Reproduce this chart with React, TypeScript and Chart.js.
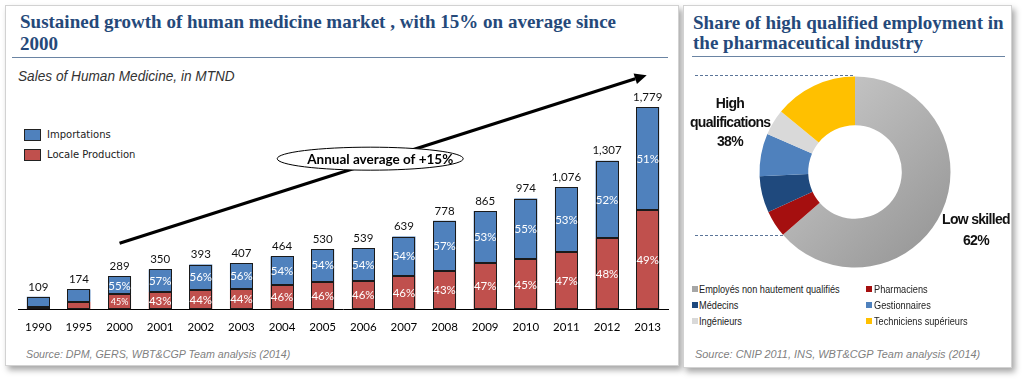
import React, { useEffect, useRef } from "react";
import { Chart, registerables } from "chart.js";

Chart.register(...registerables);

// ---------- Bar chart data (Sales of Human Medicine, MTND) ----------
const years = ["1990", "1995", "2000", "2001", "2002", "2003", "2004", "2005", "2006", "2007", "2008", "2009", "2010", "2011", "2012", "2013"];
const totalSales = [109, 174, 289, 350, 393, 407, 464, 530, 539, 639, 778, 865, 974, 1076, 1307, 1779];
// share of local production (%) — 1990 and 1995
const localSharePct = [16, 38, 45, 43, 44, 44, 46, 46, 46, 46, 43, 47, 45, 47, 48, 49];
const importPctLabels = [null, null, "55%", "57%", "56%", "56%", "54%", "54%", "54%", "54%", "57%", "53%", "55%", "53%", "52%", "51%"];
const localPctLabels = [null, null, "45%", "43%", "44%", "44%", "46%", "46%", "46%", "46%", "43%", "47%", "45%", "47%", "48%", "49%"];
const trendFromValue = 580;
const trendToValue = 2060;
const trendText = "Annual average of +15%";

// ---------- Doughnut data (employment shares, %) ----------
const jobCategories = ["Employés non hautement qualifiés", "Pharmaciens", "Médecins", "Gestionnaires", "Ingénieurs", "Techniciens supérieurs"];
const jobShares = [63.6, 4.5, 6.2, 7.2, 4.4, 14.1];
const jobColors = ["#A9A9A9", "#A50F0F", "#1F497D", "#4F81BD", "#D9D9D9", "#FFC000"];
const highLabel = ["High", "qualifications", "38%"];
const lowLabel = ["Low skilled", "62%"];

const localValues = totalSales.map((t, i) => (t * localSharePct[i]) / 100);
const importValues = totalSales.map((t, i) => t - localValues[i]);

const titleColor = "#25497A";
const ruleColor = "#6A84A3";

const barLabelPlugin = {
  id: "barLabels",
  afterDatasetsDraw(chart: any) {
    const ctx = chart.ctx;
    const xs = chart.scales.x;
    const ys = chart.scales.y;
    ctx.save();
    // crisp outlines around every segment
    ctx.strokeStyle = "#1a1a1a";
    ctx.lineWidth = 1;
    [0, 1].forEach((di) => {
      chart.getDatasetMeta(di).data.forEach((el: any) => {
        const { x, y, base, width } = el.getProps(["x", "y", "base", "width"], true);
        const l = Math.round(x - width / 2) + 0.5;
        const r = Math.round(x + width / 2) - 0.5;
        const t = Math.round(y) + 0.5;
        const b = Math.round(base) - 0.5;
        ctx.strokeRect(l, t, r - l, b - t);
      });
    });
    // percentages inside segments
    const labelSets = [localPctLabels, importPctLabels];
    [0, 1].forEach((di) => {
      const meta = chart.getDatasetMeta(di);
      meta.data.forEach((el: any, i: number) => {
        const txt = labelSets[di][i];
        if (!txt) return;
        const h = el.base - el.y;
        ctx.font = (h < 16 ? "9px" : "11.5px") + " Lato";
        ctx.fillStyle = "#ffffff";
        ctx.textAlign = "center";
        ctx.textBaseline = "middle";
        ctx.fillText(txt, el.x, (el.y + el.base) / 2 + 0.5);
      });
    });
    // totals above bars
    const top = chart.getDatasetMeta(1);
    top.data.forEach((el: any, i: number) => {
      ctx.font = "11.5px Lato";
      ctx.fillStyle = "#111";
      ctx.textAlign = "center";
      ctx.textBaseline = "middle";
      ctx.fillText(totalSales[i].toLocaleString("en-US"), el.x, el.y - 10);
    });
    // trend arrow
    const x0 = xs.getPixelForValue(2);
    const y0 = ys.getPixelForValue(trendFromValue);
    const x1 = xs.getPixelForValue(15) - 1;
    const y1 = ys.getPixelForValue(trendToValue);
    const ang = Math.atan2(y1 - y0, x1 - x0);
    const headLen = 12;
    const hx = x1 - headLen * Math.cos(ang);
    const hy = y1 - headLen * Math.sin(ang);
    ctx.strokeStyle = "#000";
    ctx.lineWidth = 3.2;
    ctx.beginPath();
    ctx.moveTo(x0, y0);
    ctx.lineTo(hx, hy);
    ctx.stroke();
    ctx.fillStyle = "#000";
    ctx.beginPath();
    ctx.moveTo(x1, y1);
    ctx.lineTo(hx + 5.5 * Math.sin(ang), hy - 5.5 * Math.cos(ang));
    ctx.lineTo(hx - 5.5 * Math.sin(ang), hy + 5.5 * Math.cos(ang));
    ctx.closePath();
    ctx.fill();
    // ellipse callout
    const ex = xs.getPixelForValue(8.17);
    const ey = ys.getPixelForValue(1325);
    ctx.beginPath();
    ctx.ellipse(ex, ey, 93, 11.5, 0, 0, Math.PI * 2);
    ctx.fillStyle = "#fff";
    ctx.fill();
    ctx.lineWidth = 1;
    ctx.strokeStyle = "#000";
    ctx.stroke();
    ctx.font = "bold 13.5px Lato";
    ctx.fillStyle = "#000";
    ctx.textAlign = "center";
    ctx.textBaseline = "middle";
    ctx.fillText(trendText, ex + 10, ey + 0.5);
    ctx.restore();
  },
};

const doughnutGuidePlugin = {
  id: "doughnutGuides",
  afterDatasetsDraw(chart: any) {
    const ctx = chart.ctx;
    const meta = chart.getDatasetMeta(0);
    const arc = meta.data[0];
    if (!arc) return;
    const { x, y, outerRadius, endAngle } = arc.getProps(["x", "y", "outerRadius", "endAngle"], true);
    ctx.save();
    ctx.strokeStyle = "#5B7599";
    ctx.lineWidth = 1;
    ctx.setLineDash([3, 2]);
    const left = 9;
    const ty = Math.round(y - outerRadius) - 1.5;
    ctx.beginPath();
    ctx.moveTo(left, ty);
    ctx.lineTo(x, ty);
    ctx.stroke();
    const px = x + outerRadius * Math.cos(endAngle);
    const py = Math.round(y + outerRadius * Math.sin(endAngle)) + 0.5;
    ctx.beginPath();
    ctx.moveTo(left, py);
    ctx.lineTo(px, py);
    ctx.stroke();
    ctx.restore();
  },
};

const narrow = (scale: number): React.CSSProperties => ({
  display: "inline-block",
  transform: `scaleX(${scale})`,
  transformOrigin: "left center",
  whiteSpace: "nowrap",
});

export default function App() {
  const barRef = useRef<HTMLCanvasElement>(null);
  const pieRef = useRef<HTMLCanvasElement>(null);

  useEffect(() => {
    const bar = new Chart(barRef.current as HTMLCanvasElement, {
      type: "bar",
      data: {
        labels: years,
        datasets: [
          {
            label: "Locale Production",
            data: localValues,
            backgroundColor: "#C0504D",
            borderWidth: 0,
            categoryPercentage: 1,
            barPercentage: 0.566,
          },
          {
            label: "Importations",
            data: importValues,
            backgroundColor: "#4F81BD",
            borderWidth: 0,
            categoryPercentage: 1,
            barPercentage: 0.566,
          },
        ],
      },
      options: {
        responsive: false,
        animation: false,
        layout: { padding: { left: 6, right: 8, top: 20, bottom: 3 } },
        plugins: { legend: { display: false }, tooltip: { enabled: false } },
        scales: {
          x: {
            stacked: true,
            grid: { display: false, drawTicks: false, tickLength: 0 },
            border: { display: true, color: "#000", width: 1 },
            ticks: { padding: 11, color: "#000", font: { family: "Lato", size: 11.5 }, autoSkip: false, maxRotation: 0 },
          },
          y: { stacked: true, display: false, min: 0, max: 2000 },
        },
      },
      plugins: [barLabelPlugin],
    } as any);

    const pie = new Chart(pieRef.current as HTMLCanvasElement, {
      type: "doughnut",
      data: {
        labels: jobCategories,
        datasets: [
          {
            data: jobShares,
            borderWidth: 0,
            backgroundColor: (c: any) => {
              if (c.dataIndex === 0) {
                const ca = c.chart.chartArea;
                if (!ca) return jobColors[0];
                const g = c.chart.ctx.createLinearGradient(ca.left, ca.top, ca.right, ca.bottom);
                g.addColorStop(0, "#D2D2D2");
                g.addColorStop(1, "#929292");
                return g;
              }
              return jobColors[c.dataIndex];
            },
          },
        ],
      },
      options: {
        responsive: false,
        animation: false,
        cutout: "49%",
        layout: { padding: { left: 73.5, right: 59.5, top: 14.5, bottom: 12.5 } },
        plugins: { legend: { display: false }, tooltip: { enabled: false } },
      },
      plugins: [doughnutGuidePlugin],
    } as any);

    return () => {
      bar.destroy();
      pie.destroy();
    };
  }, []);

  const panel: React.CSSProperties = {
    position: "absolute",
    border: "1px solid #d2d2d2",
    boxShadow: "3px 4px 6px rgba(0,0,0,0.35)",
    background: "#fff",
    boxSizing: "border-box",
  };
  const abs: React.CSSProperties = { position: "absolute", whiteSpace: "nowrap" };
  const titleFont: React.CSSProperties = {
    fontFamily: '"Liberation Serif", serif',
    fontWeight: "bold",
    fontSize: 19,
    lineHeight: "22px",
    color: titleColor,
  };
  const sourceFont: React.CSSProperties = {
    fontFamily: '"Liberation Sans", Arial, sans-serif',
    fontStyle: "italic",
    fontSize: 11.5,
    color: "#7f7f7f",
    lineHeight: "14px",
  };
  const legendRows = [
    [0, 1],
    [2, 3],
    [4, 5],
  ];

  return (
    <div style={{ position: "absolute", left: 0, top: 0, width: 1028, height: 389, background: "#fff", overflow: "hidden", fontFamily: '"Liberation Sans", Arial, sans-serif' }}>
      <div style={{ ...panel, left: 5, top: 5, width: 674, height: 361 }} />
      <div style={{ ...panel, left: 683, top: 5, width: 329, height: 363 }} />

      {/* left panel texts */}
      <div style={{ ...abs, ...titleFont, left: 20, top: 11 }}>Sustained growth of human medicine market , with 15% on average since</div>
      <div style={{ ...abs, ...titleFont, left: 20, top: 33 }}>2000</div>
      <div style={{ ...abs, left: 12, top: 57, width: 656, height: 1, background: ruleColor }} />
      <div style={{ ...abs, left: 18, top: 68, fontStyle: "italic", fontSize: 14.5, color: "#333", lineHeight: "16px" }}>
        <span style={narrow(0.94)}>Sales of Human Medicine, in MTND</span>
      </div>
      <div style={{ ...abs, left: 24, top: 129, width: 17, height: 12, background: "#4F81BD", border: "1px solid #222", boxSizing: "border-box" }} />
      <div style={{ ...abs, left: 47, top: 128, fontFamily: '"DejaVu Sans", sans-serif', fontSize: 10, lineHeight: "14px", color: "#222" }}>Importations</div>
      <div style={{ ...abs, left: 24, top: 149, width: 17, height: 12, background: "#C0504D", border: "1px solid #222", boxSizing: "border-box" }} />
      <div style={{ ...abs, left: 47, top: 148, fontFamily: '"DejaVu Sans", sans-serif', fontSize: 10, lineHeight: "14px", color: "#222" }}>Locale Production</div>
      <div style={{ ...abs, ...sourceFont, left: 26, top: 347 }}>
        <span style={narrow(0.93)}>Source: DPM, GERS, WBT&amp;CGP Team analysis  (2014)</span>
      </div>
      <div style={{ position: "absolute", left: 12, top: 62, width: 664, height: 286 }}>
        <canvas ref={barRef} width={664} height={286} style={{ width: 664, height: 286, display: "block" }} />
      </div>

      {/* right panel texts */}
      <div style={{ ...abs, ...titleFont, left: 693, top: 12 }}>Share of high qualified employment in</div>
      <div style={{ ...abs, ...titleFont, left: 693, top: 32 }}>the pharmaceutical industry</div>
      <div style={{ ...abs, left: 692, top: 56, width: 313, height: 1, background: ruleColor }} />
      <div style={{ position: "absolute", left: 686, top: 62, width: 324, height: 218 }}>
        <canvas ref={pieRef} width={324} height={218} style={{ width: 324, height: 218, display: "block" }} />
      </div>
      {highLabel.map((t, i) => (
        <div key={"h" + i} style={{ ...abs, left: 690, width: 80, top: 94 + i * 19, textAlign: "center", fontWeight: "bold", fontSize: 14, lineHeight: "18px", letterSpacing: "-0.7px", color: "#111" }}>
          {t}
        </div>
      ))}
      {lowLabel.map((t, i) => (
        <div key={"l" + i} style={{ ...abs, left: 936, width: 80, top: 210 + i * 21, textAlign: "center", fontWeight: "bold", fontSize: 14, lineHeight: "18px", letterSpacing: "-0.7px", color: "#111" }}>
          {t}
        </div>
      ))}
      {legendRows.map((row, r) =>
        row.map((idx, c) => (
          <React.Fragment key={"lg" + idx}>
            <div style={{ ...abs, left: c === 0 ? 692 : 866, top: 286 + r * 16, width: 6, height: 6, background: idx === 0 ? "#A6A6A6" : jobColors[idx] }} />
            <div style={{ ...abs, left: c === 0 ? 699 : 874, top: 282 + r * 16, fontSize: 11.5, lineHeight: "14px", color: "#222" }}>
              <span style={narrow(0.8)}>{jobCategories[idx]}</span>
            </div>
          </React.Fragment>
        ))
      )}
      <div style={{ ...abs, ...sourceFont, left: 695, top: 347 }}>
        <span style={narrow(0.95)}>Source: CNIP 2011,  INS, WBT&amp;CGP Team analysis  (2014)</span>
      </div>
    </div>
  );
}
